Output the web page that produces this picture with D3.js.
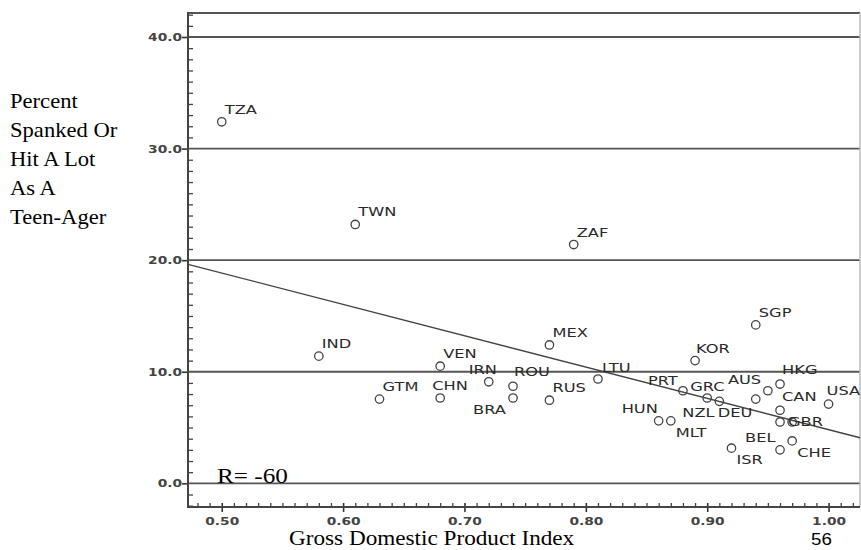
<!DOCTYPE html>
<meta charset='utf-8'>
<html>

<head>
    <title>Spanking vs GDP index</title>
    <script src="https://cdn.jsdelivr.net/npm/d3@7"></script>
    <style>
        body {
            padding: 0;
            margin: 0;
            background: #fff;
        }

        .sans {
            font-family: "DejaVu Sans", Verdana, sans-serif;
        }

        .serif {
            font-family: "Liberation Serif", "Times New Roman", serif;
        }
    </style>
</head>

<body>
    <svg id="chart" width="861" height="550"></svg>

    <script>
        // country codes, GDP index (x) and percent spanked (y)
        var codes = ["TZA", "TWN", "ZAF", "IND", "SGP", "MEX", "KOR", "VEN", "LTU", "IRN",
            "ROU", "GTM", "CHN", "BRA", "RUS", "PRT", "GRC", "NZL", "DEU", "HUN",
            "MLT", "AUS", "HKG", "CAN", "GBR", "", "USA", "BEL", "CHE", "ISR"];
        var gdpIndex = [0.50, 0.61, 0.79, 0.58, 0.94, 0.77, 0.89, 0.68, 0.81, 0.72,
            0.74, 0.63, 0.68, 0.74, 0.77, 0.88, 0.90, 0.91, 0.94, 0.86,
            0.87, 0.95, 0.96, 0.96, 0.96, 0.97, 1.00, 0.96, 0.97, 0.92];
        var pctSpanked = [32.4, 23.2, 21.4, 11.4, 14.2, 12.4, 11.0, 10.5, 9.35, 9.1,
            8.7, 7.55, 7.65, 7.65, 7.45, 8.3, 7.65, 7.35, 7.55, 5.6,
            5.6, 8.3, 8.9, 6.55, 5.5, 5.5, 7.1, 3.0, 3.8, 3.15];

        var yTicks = [0, 10, 20, 30, 40];
        var xTicks = [0.50, 0.60, 0.70, 0.80, 0.90, 1.00];

        // fitted line: pct = a + b * gdp
        var fitA = 32.88, fitB = -28.07;

        var yTitle = ["Percent", "Spanked Or", "Hit A Lot", "As A", "Teen-Ager"];
        var xTitle = "Gross Domestic Product Index";
        var rText = "R= -60";
        var pageNo = "56";

        // label nudges (px from point), default is up-right
        var labelShift = {
            IRN: [-20, -8], ROU: [1, -10], CHN: [-8, -8], BRA: [-40, 16],
            PRT: [-35, -6], GRC: [-17, -7], NZL: [-37, 16], DEU: [-38, 18],
            HUN: [-37, -8], MLT: [5, 16], AUS: [-40, -7], HKG: [2, -10],
            CAN: [2, -9], GBR: [8, 4], USA: [-2, -9], BEL: [-35, -8],
            CHE: [5, 16], ISR: [5, 16], KOR: [1, -8], LTU: [4, -7]
        };

        var plotL = 188, plotR = 860, plotT = 13, plotB = 507;
        var sx = 1.25; // text looks horizontally stretched

        var svg = d3.select("#chart");

        var x = d3.scaleLinear().domain([0.4722, 1.0259]).range([plotL, plotR]);
        var y = d3.scaleLinear().domain([-2.12, 42.15]).range([plotB, plotT]);

        var points = codes.map(function (c, i) {
            return { code: c, gdp: gdpIndex[i], pct: pctSpanked[i] };
        });

        // grid lines
        svg.append("g")
            .selectAll("line")
            .data(yTicks)
            .enter()
            .append("line")
            .attr("x1", plotL)
            .attr("x2", plotR)
            .attr("y1", function (d) { return y(d); })
            .attr("y2", function (d) { return y(d); })
            .attr("stroke", "#555")
            .attr("stroke-width", 1.8);

        // frame top and right
        svg.append("line")
            .attr("x1", plotL).attr("x2", plotR)
            .attr("y1", plotT).attr("y2", plotT)
            .attr("stroke", "#555").attr("stroke-width", 1.8);
        svg.append("line")
            .attr("x1", plotR).attr("x2", plotR)
            .attr("y1", plotT).attr("y2", plotB)
            .attr("stroke", "#bbb").attr("stroke-width", 1.5);

        // minor ticks
        var yMinor = d3.range(-2, 43).filter(function (d) { return d % 10 !== 0; });
        var xMinor = d3.range(48, 103).filter(function (d) { return d % 10 !== 0; })
            .map(function (d) { return d / 100; });

        svg.append("g")
            .attr("transform", "translate(" + plotL + ",0)")
            .call(d3.axisLeft(y).tickValues(yMinor).tickSize(-5).tickFormat(""))
            .call(function (g) { g.select(".domain").remove(); })
            .selectAll("line").attr("stroke", "#444").attr("stroke-width", 1.3);

        svg.append("g")
            .attr("transform", "translate(0," + plotB + ")")
            .call(d3.axisBottom(x).tickValues(xMinor).tickSize(-4).tickFormat(""))
            .call(function (g) { g.select(".domain").remove(); })
            .selectAll("line").attr("stroke", "#444").attr("stroke-width", 1.3);

        // major axes
        var yAxis = svg.append("g")
            .attr("class", "sans")
            .attr("transform", "translate(" + plotL + ",0)")
            .call(d3.axisLeft(y).tickValues(yTicks).tickSize(6).tickSizeOuter(0)
                .tickFormat(d3.format(".1f")));
        yAxis.selectAll(".tick line").attr("stroke", "#333").attr("stroke-width", 1.6);
        yAxis.selectAll(".tick text")
            .attr("x", -6 / sx)
            .attr("transform", "scale(" + sx + ",1)")
            .attr("font-size", 11)
            .attr("font-weight", "bold")
            .attr("fill", "#444");
        yAxis.select(".domain").remove();

        var xAxis = svg.append("g")
            .attr("class", "sans")
            .attr("transform", "translate(0," + plotB + ")")
            .call(d3.axisBottom(x).tickValues(xTicks).tickSize(5).tickSizeOuter(0)
                .tickFormat(d3.format(".2f")));
        xAxis.selectAll(".tick line").attr("stroke", "#333").attr("stroke-width", 1.6)
            .attr("y1", -4);
        xAxis.selectAll(".tick text")
            .attr("y", 10)
            .attr("transform", "scale(" + sx + ",1)")
            .attr("font-size", 11)
            .attr("font-weight", "bold")
            .attr("fill", "#444");
        xAxis.select(".domain").remove();

        // axis lines
        svg.append("line")
            .attr("x1", plotL).attr("x2", plotL)
            .attr("y1", plotT - 1).attr("y2", plotB + 1)
            .attr("stroke", "#444").attr("stroke-width", 2);
        svg.append("line")
            .attr("x1", plotL - 1).attr("x2", plotR)
            .attr("y1", plotB).attr("y2", plotB)
            .attr("stroke", "#444").attr("stroke-width", 2);

        // fit line
        var xd = x.domain();
        svg.append("line")
            .attr("x1", x(xd[0]))
            .attr("y1", y(fitA + fitB * xd[0]))
            .attr("x2", x(xd[1]))
            .attr("y2", y(fitA + fitB * xd[1]))
            .attr("stroke", "#444")
            .attr("stroke-width", 1.4);

        // points
        svg.append("g")
            .selectAll("circle")
            .data(points)
            .enter()
            .append("circle")
            .attr("cx", function (d) { return x(d.gdp); })
            .attr("cy", function (d) { return y(d.pct); })
            .attr("r", 4.2)
            .attr("fill", "none")
            .attr("stroke", "#444")
            .attr("stroke-width", 1.3);

        // point labels
        svg.append("g")
            .attr("class", "sans")
            .selectAll("text")
            .data(points.filter(function (d) { return d.code !== ""; }))
            .enter()
            .append("text")
            .attr("transform", function (d) {
                var s = labelShift[d.code] || [3, -8];
                return "translate(" + (x(d.gdp) + s[0]) + "," + (y(d.pct) + s[1]) + ") scale(1.3,1)";
            })
            .attr("font-size", 12.5)
            .attr("fill", "#2a2a2a")
            .text(function (d) { return d.code; });

        // y title, left side
        svg.append("g")
            .attr("class", "serif")
            .selectAll("text")
            .data(yTitle)
            .enter()
            .append("text")
            .attr("transform", function (d, i) {
                return "translate(10," + (108 + i * 29) + ") scale(1.13,1)";
            })
            .attr("font-size", 20)
            .attr("fill", "#000")
            .text(function (d) { return d; });

        // x title
        svg.append("text")
            .attr("class", "serif")
            .attr("transform", "translate(289,545) scale(1.16,1)")
            .attr("font-size", 20)
            .attr("fill", "#000")
            .text(xTitle);

        svg.append("text")
            .attr("class", "serif")
            .attr("transform", "translate(217,483) scale(1.2,1)")
            .attr("font-size", 21)
            .attr("fill", "#000")
            .text(rText);

        svg.append("text")
            .attr("transform", "translate(811,545) scale(1.1,1)")
            .attr("font-family", "Liberation Sans, Arial, sans-serif")
            .attr("font-size", 17)
            .attr("fill", "#000")
            .text(pageNo);
    </script>
</body>

</html>
